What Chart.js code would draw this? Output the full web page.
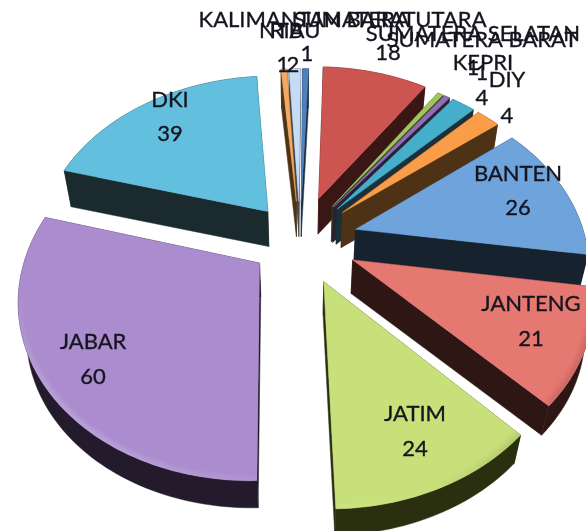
<!DOCTYPE html>
<html>
<head>
<meta charset="utf-8">
<script src="https://cdn.jsdelivr.net/npm/chart.js@4"></script>
<style>
html, body { margin: 0; padding: 0; background: #fff; }
canvas { display: block; }
</style>
</head>
<body>
<canvas id="pie" width="586" height="531"></canvas>
<script>
const categories = ['KALIMANTAN BARAT', 'SUMATERA UTARA', 'SUMATERA SELATAN', 'SUMATERA BARAT', 'KEPRI', 'DIY',
    'BANTEN', 'JANTENG', 'JATIM', 'JABAR', 'DKI', 'NTB', 'RIAU'];
const values = [1, 18, 1, 1, 4, 4, 26, 21, 24, 60, 39, 1, 2];

const colors = ['#4f81bd', '#cc5451', '#a0c45e', '#8f6fb3', '#45aecb', '#f99d49',
    '#6fa3dc', '#e67872', '#c8e07a', '#aa8ccf', '#62bfdd', '#f5a860', '#c6dcf5'];
const sideColors = ['#1c2c40', '#3a1715', '#2c3a18', '#2a2038', '#1b3038', '#4d3215',
    '#16222e', '#2e1614', '#2a2f10', '#231a2b', '#1b2a2e', '#4d3215', '#3c4650'];
const explode = [55, 62, 58, 58, 58, 58, 58, 58, 59, 50, 52, 55, 55];

// label centres, name line then value line
const labelSpots = [[307, 20, 307, 54], [390, 20, 388, 53], [473, 34, 473, 68], [482, 40, 482, 73],
    [483, 63, 482, 98], [507, 80, 507, 116], [518, 174, 518, 208], [531, 304, 531, 339],
    [415, 414, 415, 449], [93, 342, 93, 377], [170, 100, 170, 134], [281, 31, 283, 65], [295, 31, 293, 65]];

const tilt = 0.735;     // vertical squash of the disc
const persp = 0.18;     // far side shrinks, near side grows
const extrude = 0.0295; // slice thickness as a share of the distance to the vanishing point
const vanishY = 1400;

function project(arc, angle, r, mid) {
    let off = arc.options.offset;
    let R = arc.outerRadius;
    let th = angle + Math.PI / 2;
    let m = mid + Math.PI / 2;
    let u = Math.sin(th) * r + Math.sin(m) * off;
    let v = -Math.cos(th) * r - Math.cos(m) * off;
    let s = 1 / (1 - persp * v / R);
    return {x: arc.x + u * s, y: arc.y + v * tilt * s};
}

function lower(p, cx) {
    return {x: p.x + (cx - p.x) * extrude, y: p.y + (vanishY - p.y) * extrude};
}

function fillPoly(ctx, pts, color) {
    ctx.beginPath();
    pts.forEach((p, i) => i ? ctx.lineTo(p.x, p.y) : ctx.moveTo(p.x, p.y));
    ctx.closePath();
    ctx.fillStyle = color;
    ctx.strokeStyle = color;
    ctx.lineWidth = 0.5;
    ctx.fill();
    ctx.stroke();
}

function drawSlice(ctx, arc, i) {
    let mid = (arc.startAngle + arc.endAngle) / 2;
    let steps = Math.max(2, Math.ceil((arc.endAngle - arc.startAngle) * 40));
    let rim = [];
    for (let k = 0; k <= steps; k++) {
        let a = arc.startAngle + (arc.endAngle - arc.startAngle) * k / steps;
        rim.push(project(arc, a, arc.outerRadius, mid));
    }
    let apex = project(arc, mid, 0, mid);
    let top = [apex].concat(rim);
    let last = rim[rim.length - 1];

    // sides first, the top goes over them
    fillPoly(ctx, rim.concat(rim.map(p => lower(p, arc.x)).reverse()), sideColors[i]);
    fillPoly(ctx, [apex, rim[0], lower(rim[0], arc.x), lower(apex, arc.x)], sideColors[i]);
    fillPoly(ctx, [apex, last, lower(last, arc.x), lower(apex, arc.x)], sideColors[i]);
    fillPoly(ctx, top, colors[i]);

    // soft bevel along the near rim: lit from lower left, shaded on the right
    ctx.save();
    ctx.beginPath();
    top.forEach((p, k) => k ? ctx.lineTo(p.x, p.y) : ctx.moveTo(p.x, p.y));
    ctx.closePath();
    ctx.clip();
    ctx.filter = 'blur(3px)';
    ctx.lineWidth = 7;
    for (let k = 0; k < rim.length - 1; k++) {
        let dx = rim[k + 1].x - rim[k].x;
        let dy = rim[k + 1].y - rim[k].y;
        let len = Math.hypot(dx, dy) || 1;
        let nx = dy / len;
        let ny = -dx / len;
        let near = Math.min(1, Math.max(0, ny + 0.2));
        let light = (-0.8 * nx + 0.3 * ny) * near;
        if (Math.abs(light) < 0.01) continue;
        ctx.strokeStyle = light > 0 ? 'rgba(255,255,255,' + (light * 0.4) + ')' : 'rgba(0,0,0,' + (-light * 0.4) + ')';
        ctx.beginPath();
        ctx.moveTo(rim[k].x, rim[k].y);
        ctx.lineTo(rim[k + 1].x, rim[k + 1].y);
        ctx.stroke();
    }
    ctx.restore();
}

const pie3d = {
    id: 'pie3d',
    beforeDatasetDraw(chart) {
        let ctx = chart.ctx;
        let arcs = chart.getDatasetMeta(0).data;
        // far slices first
        let order = arcs.map((arc, i) => i).sort((a, b) => {
            return Math.sin((arcs[a].startAngle + arcs[a].endAngle) / 2) - Math.sin((arcs[b].startAngle + arcs[b].endAngle) / 2);
        });
        order.forEach(i => drawSlice(ctx, arcs[i], i));
        return false;
    },
    afterDraw(chart) {
        let ctx = chart.ctx;
        ctx.save();
        ctx.font = '22px Lato';
        ctx.fillStyle = '#15151f';
        ctx.strokeStyle = '#15151f';
        ctx.lineWidth = 0.35;
        ctx.textAlign = 'center';
        ctx.textBaseline = 'middle';
        categories.forEach((name, i) => {
            let spot = labelSpots[i];
            ctx.fillText(name, spot[0], spot[1]);
            ctx.strokeText(name, spot[0], spot[1]);
            ctx.fillText(String(values[i]), spot[2], spot[3]);
            ctx.strokeText(String(values[i]), spot[2], spot[3]);
        });
        ctx.restore();
    }
};

new Chart(document.getElementById('pie').getContext('2d'), {
    type: 'pie',
    data: {
        labels: categories,
        datasets: [{data: values, backgroundColor: colors, offset: explode, borderWidth: 0}]
    },
    options: {
        responsive: false,
        animation: false,
        rotation: 0.5,
        radius: 230,
        layout: {padding: {left: 14, top: 0, right: 0, bottom: 51}},
        plugins: {legend: {display: false}, tooltip: {enabled: false}}
    },
    plugins: [pie3d]
});
</script>
</body>
</html>
